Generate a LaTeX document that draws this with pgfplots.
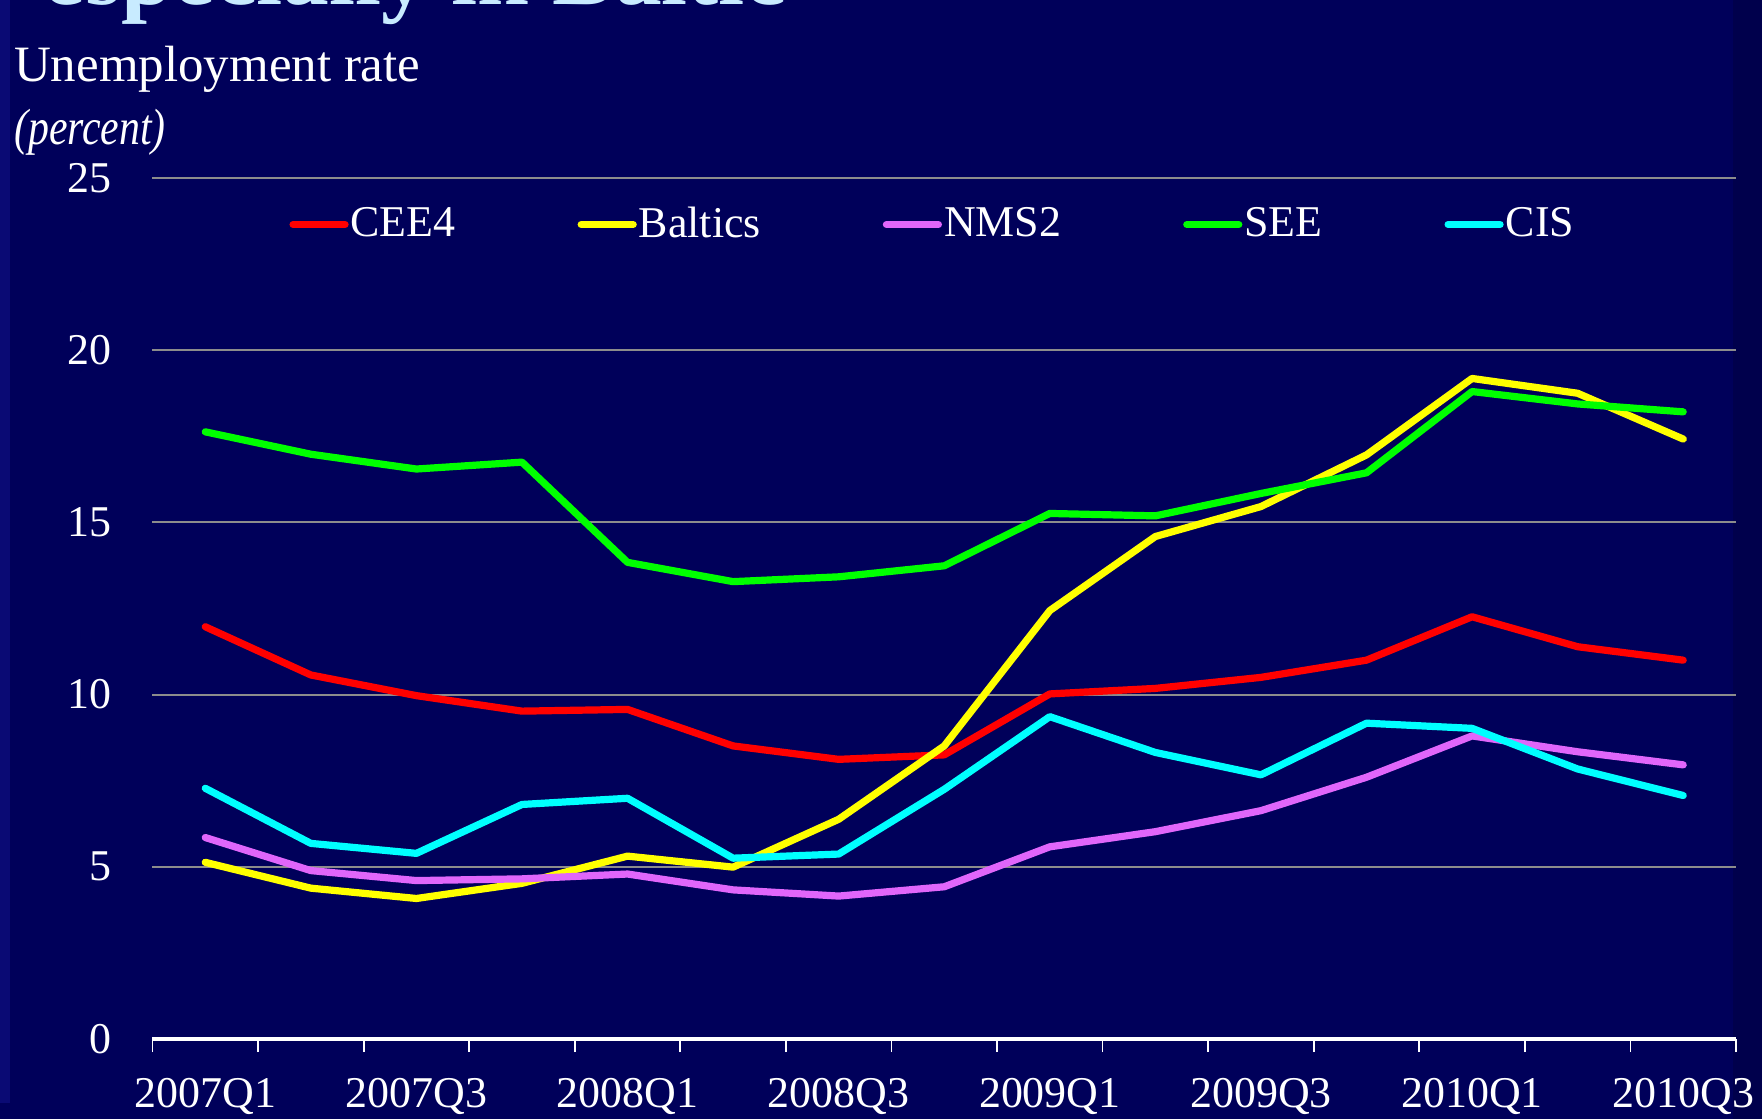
\documentclass[border=0pt]{standalone}
\usepackage{fontspec}
\setmainfont{Liberation Serif}
\usepackage{pgfplots}
\pgfplotsset{compat=1.18}
\definecolor{bg}{HTML}{00005A}
\definecolor{bgdark}{HTML}{00004C}
\definecolor{bgleft}{HTML}{0A0A74}
\definecolor{titleblue}{HTML}{C8EBFF}
\definecolor{gridgray}{HTML}{8C8C8C}
\definecolor{cred}{HTML}{FF0000}
\definecolor{cyellow}{HTML}{FFFF00}
\definecolor{cviolet}{HTML}{E066FA}
\definecolor{cgreen}{HTML}{00FF00}
\definecolor{ccyan}{HTML}{00FFFF}
\begin{document}
\begin{tikzpicture}[x=0.1mm,y=0.1mm]
\useasboundingbox (0,0) rectangle (1762,1119);
\clip (0,0) rectangle (1762,1119);
\fill[bg] (0,0) rectangle (1762,1119);
\fill[bgdark] (1733,0) rectangle (1762,1119);
\fill[bgleft] (0,16) rectangle (10,1119);
\node[anchor=base west, inner sep=0pt, text=titleblue, font=\fontsize{26.6}{30}\selectfont\bfseries] at (43,1114) {especially in Baltic};
\node[anchor=base west, inner sep=0pt, text=white, font=\fontsize{14.5}{17}\selectfont] at (13.5,1037) {Unemployment rate};
\node[anchor=base west, inner sep=0pt, text=white, font=\fontsize{14.5}{17}\selectfont\itshape] at (13.5,974) {\scalebox{0.82}[1]{(percent)}};
\begin{axis}[
  scale only axis,
  width=158.35mm, height=86.1mm,
  at={(15.25mm,8mm)}, anchor=south west,
  xmin=-0.5, xmax=14.5, ymin=0, ymax=25,
  xtick={0,2,...,14},
  xticklabels={2007Q1,2007Q3,2008Q1,2008Q3,2009Q1,2009Q3,2010Q1,2010Q3},
  minor xtick={-0.5,0.5,...,14.5},
  ytick={0,5,...,25},
  major tick length=0pt, minor tick length=1.3mm, tick align=outside,
  tick style={white, line width=0.5pt},
  axis x line*=bottom, axis y line*=left,
  x axis line style={-, white, line width=1pt},
  y axis line style={draw=none},
  ymajorgrids, grid style={gridgray, line width=0.55pt},
  ticklabel style={text=white, font=\fontsize{12.5}{14}\selectfont},
  /pgf/number format/assume math mode=true,
  xticklabel style={anchor=base, yshift=-6.8mm},
  yticklabel style={anchor=east, inner sep=0pt, xshift=-4mm},
  clip=false,
  legend columns=5,
  legend style={at={(0.0865,0.946)}, anchor=west, draw=none, fill=none,
    inner sep=0pt, outer sep=0pt, text=white,
    font=\fontsize{12.5}{14}\selectfont,
    nodes={inner xsep=0.2mm, inner ysep=0.5mm},
    /tikz/every even column/.append style={column sep=12.0mm}},
  legend image code/.code={\draw[#1, line cap=round] (0mm,0mm) -- (5.2mm,0mm);},
  every axis plot/.append style={line width=0.72mm, line cap=round, line join=round},
]
\addplot[cred] coordinates {(0,11.97)(1,10.57)(2,9.97)(3,9.52)(4,9.57)(5,8.51)(6,8.12)(7,8.25)(8,10.02)(9,10.18)(10,10.5)(11,11.0)(12,12.26)(13,11.39)(14,11.0)};
\addlegendentry{CEE4}
\addplot[cyellow] coordinates {(0,5.13)(1,4.38)(2,4.08)(3,4.52)(4,5.31)(5,4.99)(6,6.38)(7,8.51)(8,12.44)(9,14.59)(10,15.46)(11,16.96)(12,19.18)(13,18.75)(14,17.42)};
\addlegendentry{Baltics}
\addplot[cviolet] coordinates {(0,5.85)(1,4.89)(2,4.60)(3,4.65)(4,4.79)(5,4.33)(6,4.15)(7,4.42)(8,5.58)(9,6.02)(10,6.63)(11,7.60)(12,8.80)(13,8.34)(14,7.96)};
\addlegendentry{NMS2}
\addplot[cgreen] coordinates {(0,17.63)(1,16.98)(2,16.55)(3,16.75)(4,13.84)(5,13.28)(6,13.42)(7,13.74)(8,15.26)(9,15.19)(10,15.84)(11,16.44)(12,18.80)(13,18.44)(14,18.21)};
\addlegendentry{SEE}
\addplot[ccyan] coordinates {(0,7.28)(1,5.68)(2,5.39)(3,6.81)(4,6.99)(5,5.25)(6,5.37)(7,7.25)(8,9.36)(9,8.32)(10,7.67)(11,9.17)(12,9.02)(13,7.84)(14,7.07)};
\addlegendentry{CIS}
\end{axis}
\end{tikzpicture}
\end{document}
